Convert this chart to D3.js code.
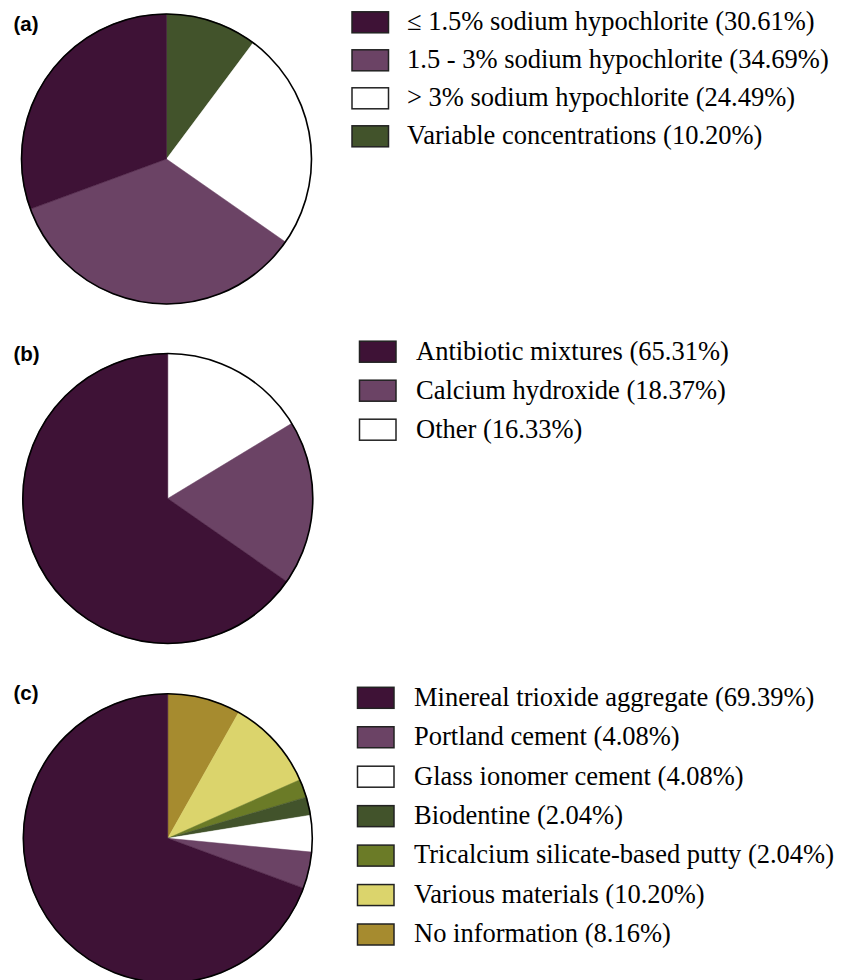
<!DOCTYPE html>
<html>
<head>
<meta charset="utf-8">
<script src="https://cdn.jsdelivr.net/npm/d3@7/dist/d3.min.js"></script>
<style>
  html, body { margin: 0; padding: 0; background: #fff; }
  svg { display: block; }
</style>
</head>
<body>
<svg id="chart" width="846" height="980"></svg>
<script>
// Irrigation solutions (panel a)
const irrigantLabels = ["≤ 1.5% sodium hypochlorite", "1.5 - 3% sodium hypochlorite", "> 3% sodium hypochlorite", "Variable concentrations"];
const irrigantValues = [30.61, 34.69, 24.49, 10.20];
const irrigantColors = ["#3e1236", "#6b4365", "#ffffff", "#42532b"];

// Intracanal medicaments (panel b)
const medicamentLabels = ["Antibiotic mixtures", "Calcium hydroxide", "Other"];
const medicamentValues = [65.31, 18.37, 16.33];
const medicamentColors = ["#3e1236", "#6b4365", "#ffffff"];

// Coronal barrier materials (panel c)
const barrierLabels = ["Minereal trioxide aggregate", "Portland cement", "Glass ionomer cement", "Biodentine", "Tricalcium silicate-based putty", "Various materials", "No information"];
const barrierValues = [69.39, 4.08, 4.08, 2.04, 2.04, 10.20, 8.16];
const barrierColors = ["#3e1236", "#6b4365", "#ffffff", "#42532b", "#6b7b27", "#dbd46c", "#a68b2f"];

const panelLetters = ["(a)", "(b)", "(c)"];

const panels = [
  { letter: panelLetters[0], labels: irrigantLabels, values: irrigantValues, colors: irrigantColors,
    cx: 166.5, cy: 159, r: 145, letterY: 31, legendX: 352, textX: 407, legendY: 22.3, step: 38 },
  { letter: panelLetters[1], labels: medicamentLabels, values: medicamentValues, colors: medicamentColors,
    cx: 167.8, cy: 498.5, r: 145, letterY: 361, legendX: 359.5, textX: 416, legendY: 351.7, step: 39 },
  { letter: panelLetters[2], labels: barrierLabels, values: barrierValues, colors: barrierColors,
    cx: 167.8, cy: 838.3, r: 144.5, letterY: 700, legendX: 357.5, textX: 414, legendY: 697.8, step: 39.45 }
];

const svg = d3.select("#chart");

panels.forEach(p => {
  const items = p.labels.map((label, i) => ({ label, value: p.values[i], color: p.colors[i] }));

  // Slices run clockwise from 12 o'clock, starting with the last legend entry
  const pie = d3.pie().sort(null).value(d => d.value);
  const arcs = pie(items.slice().reverse());
  const arc = d3.arc().innerRadius(0).outerRadius(p.r);

  const g = svg.append("g").attr("transform", `translate(${p.cx},${p.cy})`);
  g.selectAll("path.slice")
    .data(arcs)
    .join("path")
    .attr("class", "slice")
    .attr("d", arc)
    .attr("fill", d => d.data.color)
    .attr("stroke", d => d.data.color)
    .attr("stroke-width", 0.5);

  // outer rim
  g.append("circle")
    .attr("r", p.r)
    .attr("fill", "none")
    .attr("stroke", "#000")
    .attr("stroke-width", 1.6);

  // panel letter
  svg.append("text")
    .attr("x", 13.5)
    .attr("y", p.letterY)
    .style("font-family", '"Liberation Sans"')
    .style("font-weight", "bold")
    .style("font-size", "20.5px")
    .attr("fill", "#000")
    .text(p.letter);

  // legend
  const leg = svg.append("g");
  const rows = leg.selectAll("g.row")
    .data(items)
    .join("g")
    .attr("class", "row")
    .attr("transform", (d, i) => `translate(0,${p.legendY + i * p.step})`);

  rows.append("rect")
    .attr("x", p.legendX)
    .attr("y", -10.5)
    .attr("width", 36.5)
    .attr("height", 21)
    .attr("fill", d => d.color)
    .attr("stroke", "#222")
    .attr("stroke-width", 1.5);

  rows.append("text")
    .attr("x", p.textX)
    .attr("y", 7.8)
    .style("font-family", '"Liberation Serif"')
    .style("font-size", "26.5px")
    .attr("fill", "#000")
    .text(d => `${d.label} (${d.value.toFixed(2)}%)`);
});
</script>
</body>
</html>
